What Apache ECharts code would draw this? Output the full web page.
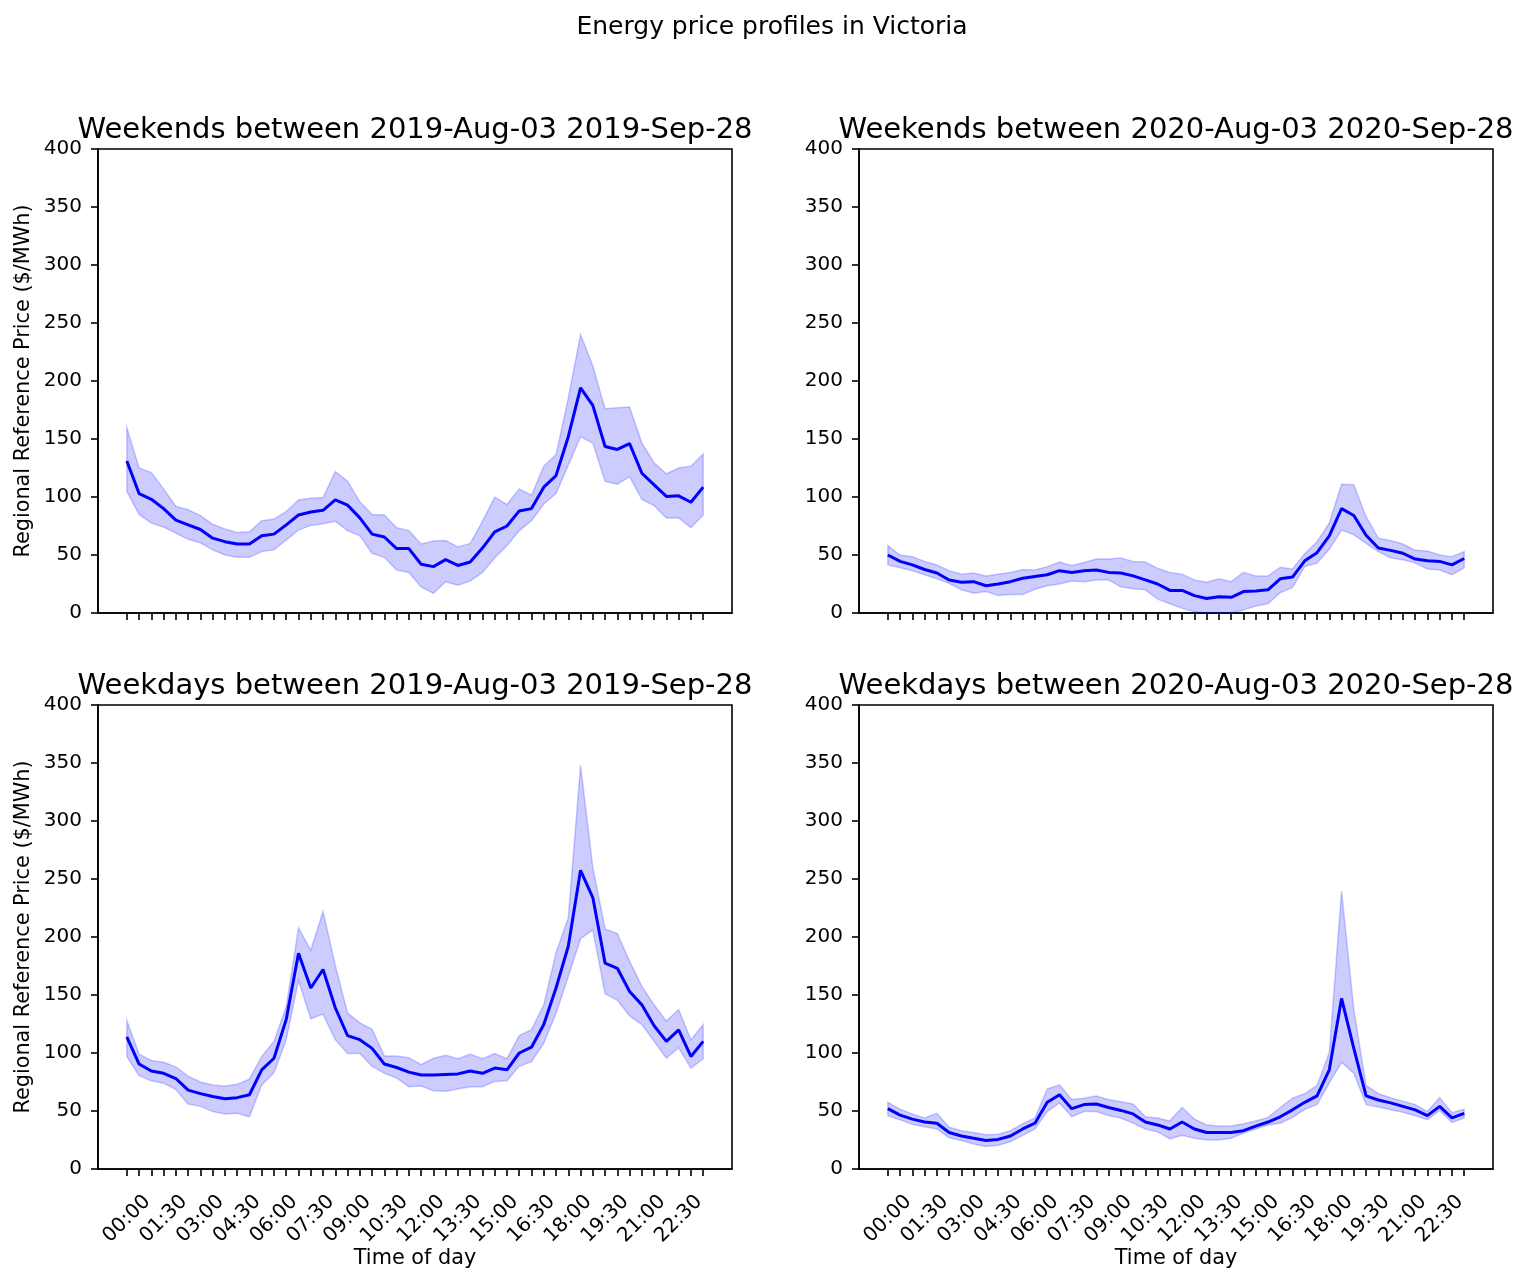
<!DOCTYPE html>
<html>
<head>
<meta charset="utf-8">
<script src="https://cdn.jsdelivr.net/npm/echarts@6/dist/echarts.min.js"></script>
<style>
html,body{margin:0;padding:0;background:#fff;}
#chart{width:1529px;height:1283px;}
</style>
</head>
<body>
<div id="chart"></div>
<script>
// ---- Data ----
const times = [];
for (let h = 0; h < 24; h++) { for (const m of ['00', '30']) times.push(String(h).padStart(2, '0') + ':' + m); }
const tickLabelIdx = [0, 3, 6, 9, 12, 15, 18, 21, 24, 27, 30, 33, 36, 39, 42, 45];

const panelTitles = [
  'Weekends between 2019-Aug-03 2019-Sep-28',
  'Weekends between 2020-Aug-03 2020-Sep-28',
  'Weekdays between 2019-Aug-03 2019-Sep-28',
  'Weekdays between 2020-Aug-03 2020-Sep-28'
];

// 2019 weekends
const we2019Mean = [131, 103, 98, 90, 80, 76, 72, 64.5, 61.5, 59.5, 59.5, 66.5, 68, 76, 84.5, 87, 88.5, 97.5, 93, 82, 68, 65.5, 55.5, 55.5, 42, 40, 46, 41, 44, 56, 70, 75, 88, 90, 108.5, 118.5, 152, 194, 179, 143.5, 141, 146, 120.5, 110.5, 100.5, 101, 95.5, 108.5];
const we2019Upper = [160, 125, 121, 107, 92, 89, 84, 76.5, 72.5, 69.5, 70, 79.5, 81, 87.5, 97.5, 99, 99.5, 122, 113.5, 96, 85, 84.5, 73.5, 71, 59.5, 62, 62.5, 57, 60, 79, 100, 93.5, 107, 101.5, 126.5, 136.5, 185.5, 240, 213, 176, 177, 177.5, 146.5, 129.5, 120, 125, 126.5, 137];
const we2019Lower = [105, 85, 77.5, 74, 69, 63.5, 60.5, 54.5, 50, 48, 48, 53, 54.5, 63, 71.5, 75.5, 77, 79, 71, 66.5, 51.5, 48, 37, 35, 22.5, 17, 27, 24, 27.5, 35, 47.5, 58, 71, 79.5, 94, 103, 127.5, 152, 146.5, 113.5, 111, 117.5, 98, 92.5, 82, 82, 73.5, 84.5];

// 2020 weekends
const we2020Mean = [50, 44.5, 41.5, 37.5, 34.5, 28.5, 26.5, 27, 23.5, 25, 27, 30, 31.5, 33, 36.5, 35, 36.5, 37, 35, 34.5, 32, 28.5, 25, 19.5, 19.5, 15, 12.5, 14, 13.5, 18.5, 19, 20, 29.5, 31, 45, 52, 66.5, 90, 84, 67, 56, 54, 51.5, 46.5, 45, 44.5, 41.5, 47];
const we2020Upper = [58, 50, 48.5, 44.5, 41.5, 36.5, 33.5, 34.5, 32, 33.5, 35, 37.5, 37, 40, 44, 41, 43.5, 46.5, 46.5, 47.5, 44.5, 44, 38.5, 35, 33.5, 28.5, 26.5, 29.5, 27, 35, 32, 32, 39.5, 38, 51, 61.5, 77.5, 111, 110.5, 83, 64.5, 62.5, 59.5, 54, 53.5, 50, 48.5, 53];
const we2020Lower = [41.5, 39, 36.5, 33, 29.5, 25.5, 20, 17, 18.5, 15, 16, 16, 20.5, 23.5, 25, 27.5, 27, 28.5, 28.5, 22.5, 21, 20, 12, 8, 4, 1, 0, 0, 0, 2.5, 6, 8, 17.5, 22, 40, 43, 55, 71.5, 67.5, 60, 53, 47.5, 46, 43, 38, 37, 33, 39];

// 2019 weekdays
const wd2019Mean = [114, 90.5, 84.5, 82.5, 78, 68, 65, 62.5, 60.5, 61.5, 64, 85.5, 95.5, 129, 186, 156, 172, 139, 115, 111.5, 104, 90.5, 87.5, 83.5, 81, 81, 81.5, 82, 84.5, 82.5, 87, 85.5, 100, 105, 124.5, 156, 192, 257.5, 234, 177.5, 173, 153, 141.5, 123.5, 110, 120, 97, 110];
const wd2019Upper = [128, 99, 93.5, 92, 88, 80, 75, 72.5, 71.5, 73, 77.5, 97, 110, 140, 208, 188.5, 222, 175.5, 134.5, 126, 120.5, 97.5, 97.5, 96, 90, 95.5, 98, 95, 99, 95, 99.5, 95, 115, 120, 141.5, 186.5, 216.5, 348, 260, 207, 203, 179, 157.5, 141.5, 127.5, 137.5, 111.5, 124.5];
const wd2019Lower = [97, 80.5, 76, 74, 68.5, 56, 54, 49.5, 47.5, 48, 45, 72.5, 83, 111.5, 162.5, 129.5, 133.5, 111.5, 99.5, 99.5, 88.5, 82.5, 78.5, 71, 71.5, 67.5, 67, 69, 71, 71, 75.5, 76, 88.5, 92.5, 108.5, 134, 166, 198.5, 206, 151, 145.5, 132, 124.5, 110, 95.5, 104.5, 87, 95];

// 2020 weekdays
const wd2020Mean = [52, 46.5, 43, 40.5, 39.5, 31.5, 28.5, 26.5, 24.5, 25.5, 28.5, 34.5, 39.5, 57.5, 64, 52, 55.5, 56, 53, 50.5, 47.5, 40.5, 38, 34.5, 40.5, 34.5, 31.5, 31.5, 31.5, 33, 37, 40.5, 45, 51, 57.5, 63, 85.5, 147, 104, 63, 59.5, 57, 54, 51, 46, 54, 44, 48];
const wd2020Upper = [57.5, 51.5, 47.5, 44, 48, 36, 33, 31.5, 29.5, 30, 33, 39, 44, 69, 72.5, 60, 61, 63, 60, 58, 56, 45, 44, 41.5, 53, 43, 38, 37, 37, 39, 41.5, 44.5, 53, 61, 65, 72, 100.5, 239.5, 137.5, 72, 65, 61.5, 58.5, 55.5, 49.5, 61.5, 48.5, 51.5];
const wd2020Lower = [46, 42.5, 38.5, 36.5, 34.5, 27, 24.5, 21.5, 19.5, 20.5, 23.5, 29, 34.5, 49.5, 57, 45, 49.5, 49.5, 46, 44, 39.5, 34.5, 32, 26, 29, 26.5, 25, 25, 26.5, 31, 34.5, 38, 39.5, 44.5, 51.5, 55.5, 74, 92, 82.5, 55.5, 53.5, 51, 49, 46, 42.5, 50.5, 40, 44];

const panels = [
  { mean: we2019Mean, upper: we2019Upper, lower: we2019Lower },
  { mean: we2020Mean, upper: we2020Upper, lower: we2020Lower },
  { mean: wd2019Mean, upper: wd2019Upper, lower: wd2019Lower },
  { mean: wd2020Mean, upper: wd2020Upper, lower: wd2020Lower }
];

// ---- Layout ----
const FONT = 'DejaVu Sans';
const gridPos = [
  { left: 98, top: 149, width: 634, height: 464 },
  { left: 859, top: 149, width: 634, height: 464 },
  { left: 98, top: 705, width: 634, height: 464 },
  { left: 859, top: 705, width: 634, height: 464 }
];
const allIdx = times.map((_, i) => i);

const option = {
  animation: false,
  backgroundColor: '#ffffff',
  title: [
    { text: 'Energy price profiles in Victoria', left: 772, top: 15, textAlign: 'center', padding: 0,
      textStyle: { fontFamily: FONT, fontSize: 25, fontWeight: 'normal', color: '#000' } }
  ].concat(panelTitles.map((t, k) => ({
    text: t, left: gridPos[k].left + 317, top: gridPos[k].top - 33, textAlign: 'center', padding: 0,
    textStyle: { fontFamily: FONT, fontSize: 29, fontWeight: 'normal', color: '#000' }
  }))),
  grid: gridPos.map(g => Object.assign({ show: true, borderColor: '#000', borderWidth: 1.6, backgroundColor: 'transparent', containLabel: false }, g)),
  xAxis: gridPos.map((g, k) => ({
    type: 'value', gridIndex: k, min: -2.35, max: 49.35,
    name: k >= 2 ? 'Time of day' : '', nameLocation: 'middle', nameGap: 79, nameMoveOverlap: false,
    nameTextStyle: { fontFamily: FONT, fontSize: 20.8, color: '#000' },
    axisLine: { show: true, onZero: false, lineStyle: { color: '#000', width: 1.6 } },
    axisTick: { show: true, customValues: allIdx, length: 7, lineStyle: { color: '#000', width: 1.6 } },
    axisLabel: {
      show: k >= 2, customValues: tickLabelIdx, rotate: 45, align: 'center', verticalAlign: 'middle', margin: 50,
      fontFamily: FONT, fontSize: 20, color: '#000',
      formatter: v => times[Math.round(v)] || ''
    },
    splitLine: { show: false }
  })),
  yAxis: gridPos.map((g, k) => ({
    type: 'value', gridIndex: k, min: 0, max: 400, interval: 50,
    name: (k % 2 === 0) ? 'Regional Reference Price ($/MWh)' : '', nameLocation: 'middle', nameGap: 64, nameRotate: 90,
    nameTextStyle: { fontFamily: FONT, fontSize: 20.8, color: '#000' },
    axisLine: { show: true, onZero: false, lineStyle: { color: '#000', width: 1.6 } },
    axisTick: { show: true, length: 7, lineStyle: { color: '#000', width: 1.6 } },
    axisLabel: { fontFamily: FONT, fontSize: 20, color: '#000', margin: 16, formatter: v => String(v) },
    splitLine: { show: false }
  })),
  series: []
};

panels.forEach((p, k) => {
  // shaded band between lower and upper, drawn as one polygon through the axis scales
  option.series.push({
    type: 'custom', xAxisIndex: k, yAxisIndex: k, silent: true, z: 2, clip: true,
    data: p.lower.map((v, i) => [i, v, p.upper[i]]),
    encode: { x: 0, y: [1, 2] },
    renderItem: function (params, api) {
      if (params.dataIndex !== 0) return null;
      const pts = [];
      for (let i = 0; i < p.upper.length; i++) pts.push(api.coord([i, p.upper[i]]));
      for (let i = p.lower.length - 1; i >= 0; i--) pts.push(api.coord([i, p.lower[i]]));
      return {
        type: 'polygon',
        shape: { points: pts },
        style: { fill: 'rgba(0,0,255,0.2)', stroke: 'rgba(0,0,255,0.2)', lineWidth: 1.5 }
      };
    }
  });
  option.series.push({
    type: 'line', xAxisIndex: k, yAxisIndex: k,
    data: p.mean.map((v, i) => [i, v]), symbol: 'none', silent: true,
    lineStyle: { color: '#0000ff', width: 3 }, z: 5
  });
});

const chart = echarts.init(document.getElementById('chart'), null, { renderer: 'canvas' });
chart.setOption(option);
</script>
</body>
</html>
